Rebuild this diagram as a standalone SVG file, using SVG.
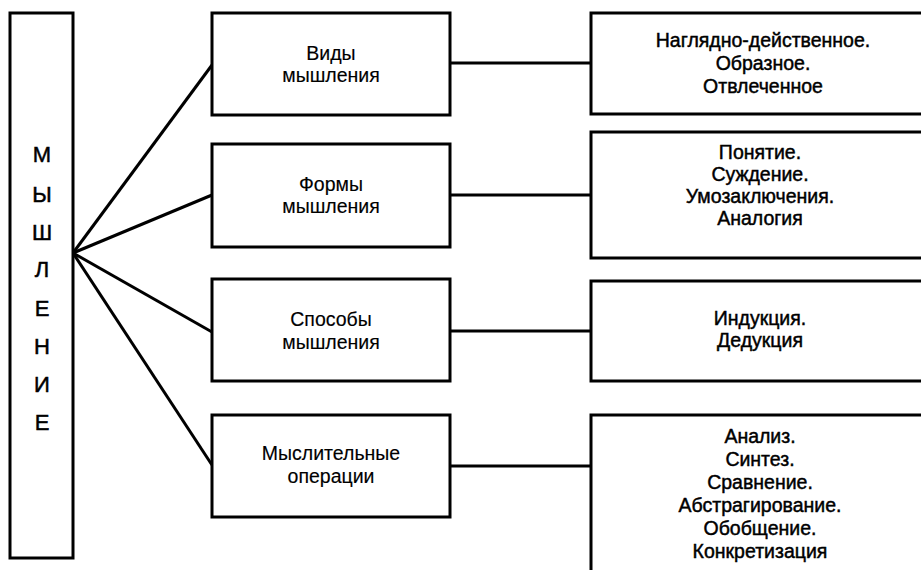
<svg xmlns="http://www.w3.org/2000/svg" width="921" height="570" viewBox="0 0 921 570">
<style>
.box{fill:#fff;stroke:#000;stroke-width:3}
.open{fill:none;stroke:#000;stroke-width:3}
.ln{stroke:#000;stroke-width:3;fill:none}
text{font-family:"Liberation Sans",Arial,sans-serif;fill:#000;text-anchor:middle}
.big{font-size:22px;stroke:#000;stroke-width:0.5}
.mid{font-size:19.5px;stroke:#000;stroke-width:0.15}
.rt{font-size:19.5px;stroke:#000;stroke-width:0.45}
</style>
<rect width="921" height="570" fill="#fff"/>
<g id="connectors">
<line class="ln" x1="73" y1="253" x2="212" y2="65"/>
<line class="ln" x1="73" y1="253" x2="212" y2="195"/>
<line class="ln" x1="73" y1="253" x2="212" y2="332"/>
<line class="ln" x1="73" y1="253" x2="212" y2="465"/>
<line class="ln" x1="450" y1="63" x2="591" y2="63"/>
<line class="ln" x1="450" y1="195" x2="591" y2="195"/>
<line class="ln" x1="450" y1="331" x2="591" y2="331"/>
<line class="ln" x1="450" y1="466" x2="591" y2="466"/>
</g>
<g id="root">
<rect class="box" x="10" y="13" width="63" height="545"/>
<text class="big" x="42" y="162">М</text>
<text class="big" x="42" y="202">Ы</text>
<text class="big" x="42" y="240">Ш</text>
<text class="big" x="42" y="277">Л</text>
<text class="big" x="42" y="316">Е</text>
<text class="big" x="42" y="354">Н</text>
<text class="big" x="42" y="392">И</text>
<text class="big" x="42" y="430">Е</text>
</g>
<g id="vidy">
<rect class="box" x="212" y="13" width="238" height="102"/>
<text class="mid" x="331" y="60">Виды</text>
<text class="mid" x="331" y="82">мышления</text>
</g>
<g id="formy">
<rect class="box" x="212" y="144" width="238" height="103"/>
<text class="mid" x="331" y="191">Формы</text>
<text class="mid" x="331" y="213">мышления</text>
</g>
<g id="sposoby">
<rect class="box" x="212" y="279" width="238" height="102"/>
<text class="mid" x="331" y="326">Способы</text>
<text class="mid" x="331" y="349">мышления</text>
</g>
<g id="operacii">
<rect class="box" x="212" y="415" width="238" height="102"/>
<text class="mid" x="331" y="460">Мыслительные</text>
<text class="mid" x="331" y="483">операции</text>
</g>
<g id="vidy-list">
<path class="open" d="M925 13 H591 V114 H925"/>
<text class="rt" x="763" y="47">Наглядно-действенное.</text>
<text class="rt" x="763" y="70">Образное.</text>
<text class="rt" x="763" y="93">Отвлеченное</text>
</g>
<g id="formy-list">
<path class="open" d="M925 132 H591 V258 H925"/>
<text class="rt" x="760" y="159">Понятие.</text>
<text class="rt" x="760" y="181">Суждение.</text>
<text class="rt" x="760" y="203">Умозаключения.</text>
<text class="rt" x="760" y="225">Аналогия</text>
</g>
<g id="sposoby-list">
<path class="open" d="M925 281 H591 V381 H925"/>
<text class="rt" x="760" y="325">Индукция.</text>
<text class="rt" x="760" y="347">Дедукция</text>
</g>
<g id="operacii-list">
<path class="open" d="M925 415 H591 V575"/>
<text class="rt" x="760" y="443">Анализ.</text>
<text class="rt" x="760" y="466">Синтез.</text>
<text class="rt" x="760" y="489">Сравнение.</text>
<text class="rt" x="760" y="512">Абстрагирование.</text>
<text class="rt" x="760" y="535">Обобщение.</text>
<text class="rt" x="760" y="558">Конкретизация</text>
</g>
</svg>
